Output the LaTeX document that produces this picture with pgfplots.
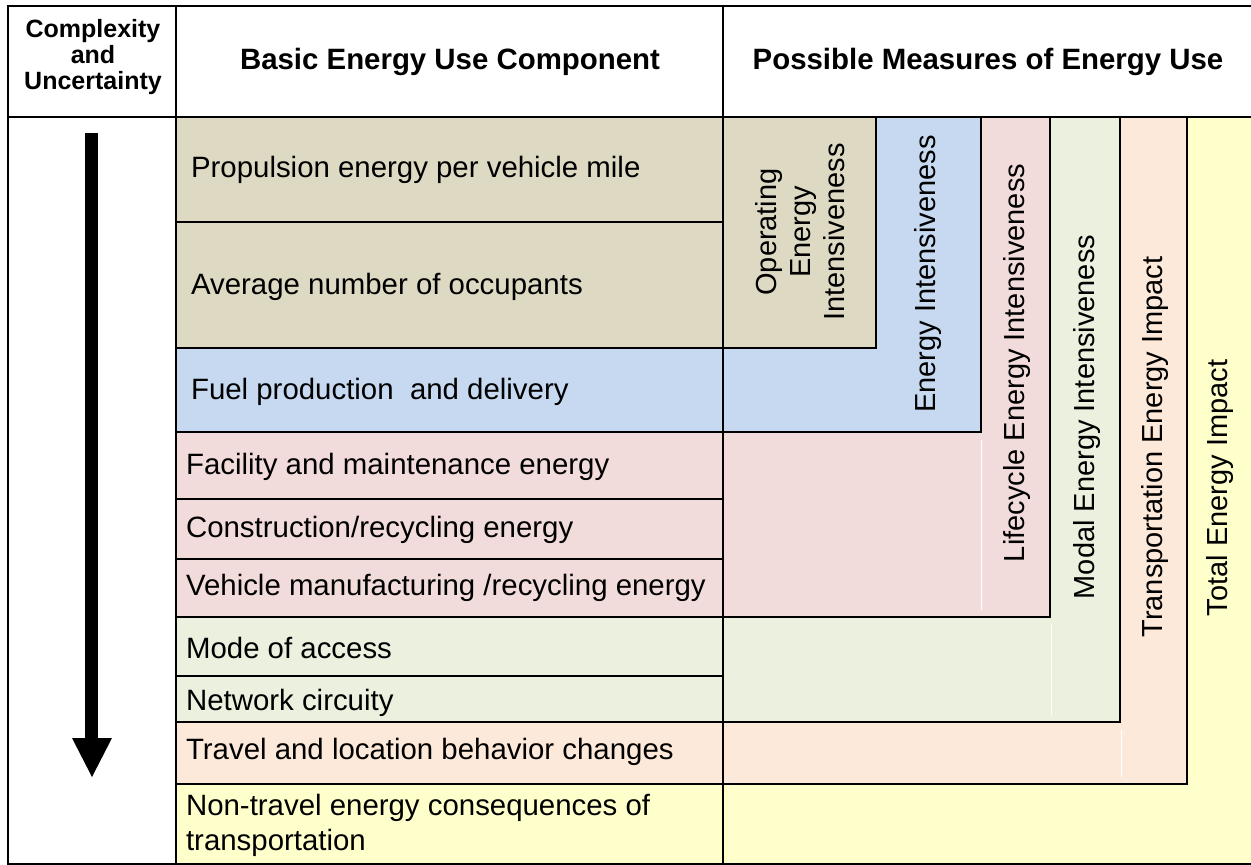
\documentclass[border=0pt]{standalone}
\usepackage{pgfplots}
\pgfplotsset{compat=1.18}
\usepackage{fontspec}
\setmainfont{Liberation Sans}
\definecolor{ctan}{HTML}{DDD9C3}
\definecolor{cblue}{HTML}{C6D9F1}
\definecolor{cpink}{HTML}{F2DCDB}
\definecolor{cgreen}{HTML}{EBF1DE}
\definecolor{cpeach}{HTML}{FDE9D9}
\definecolor{cyellow}{HTML}{FFFFCC}
\begin{document}
\begin{tikzpicture}
\begin{axis}[width=625.5pt,height=432.5pt,scale only axis,
  xmin=0,xmax=1251,ymin=0,ymax=865,y dir=reverse,hide axis]
% bounding
\addplot[draw=none] coordinates {(0,0) (1251,865)};
% left column fills
\addplot[fill=ctan,draw=none] coordinates {(176,117) (723,117) (723,348) (176,348)} -- cycle;
\addplot[fill=cblue,draw=none] coordinates {(176,348) (723,348) (723,432) (176,432)} -- cycle;
\addplot[fill=cpink,draw=none] coordinates {(176,432) (723,432) (723,617) (176,617)} -- cycle;
\addplot[fill=cgreen,draw=none] coordinates {(176,617) (723,617) (723,722) (176,722)} -- cycle;
\addplot[fill=cpeach,draw=none] coordinates {(176,722) (723,722) (723,784) (176,784)} -- cycle;
\addplot[fill=cyellow,draw=none] coordinates {(176,784) (723,784) (723,864) (176,864)} -- cycle;
% measure fills
\addplot[fill=cyellow,draw=none] coordinates {(723,117) (1251,117) (1251,864) (723,864)} -- cycle;
\addplot[fill=cpeach,draw=none] coordinates {(723,117) (1187,117) (1187,784) (723,784)} -- cycle;
\addplot[fill=cgreen,draw=none] coordinates {(723,117) (1120,117) (1120,722) (723,722)} -- cycle;
\addplot[fill=cpink,draw=none] coordinates {(723,117) (1050,117) (1050,617) (723,617)} -- cycle;
\addplot[fill=cblue,draw=none] coordinates {(723,117) (981,117) (981,432) (723,432)} -- cycle;
\addplot[fill=ctan,draw=none] coordinates {(723,117) (876,117) (876,348) (723,348)} -- cycle;
% white artifact lines
\addplot[white,line width=0.5pt] coordinates {(981,440) (981,610)};
\addplot[white,line width=0.5pt] coordinates {(1051,624) (1051,715)};
\addplot[white,line width=0.5pt] coordinates {(1121,730) (1121,777)};
% L borders
\addplot[black,line width=1pt] coordinates {(876,117) (876,348) (176,348)};
\addplot[black,line width=1pt] coordinates {(981,117) (981,432) (176,432)};
\addplot[black,line width=1pt] coordinates {(1050,117) (1050,617) (176,617)};
\addplot[black,line width=1pt] coordinates {(1120,117) (1120,722) (176,722)};
\addplot[black,line width=1pt] coordinates {(1187,117) (1187,784) (176,784)};
% thin row lines
\addplot[black,line width=0.6pt] coordinates {(176,222) (723,222)};
\addplot[black,line width=0.6pt] coordinates {(176,499) (723,499)};
\addplot[black,line width=0.6pt] coordinates {(176,559) (723,559)};
\addplot[black,line width=0.6pt] coordinates {(176,676) (723,676)};
% frame
\addplot[black,line width=1pt] coordinates {(1251,6) (8,6) (8,864) (1251,864)};
\addplot[black,line width=1pt] coordinates {(8,117) (1251,117)};
\addplot[black,line width=1pt] coordinates {(176,6) (176,864)};
\addplot[black,line width=1pt] coordinates {(723,6) (723,864)};
% arrow
\addplot[fill=black,draw=none] coordinates {(85,133) (98,133) (98,738) (85,738)} -- cycle;
\addplot[fill=black,draw=none] coordinates {(72,738) (112,738) (92,777)} -- cycle;
% header texts
\node[font=\fontsize{12.5}{13}\selectfont\bfseries,align=center] at (axis cs:93,57) {Complexity\\and\\Uncertainty};
\node[font=\fontsize{14.7}{18}\selectfont\bfseries] at (axis cs:450,62) {Basic Energy Use Component};
\node[font=\fontsize{14.7}{18}\selectfont\bfseries] at (axis cs:988,62) {Possible Measures of Energy Use};
% left texts
\begin{scope}[every node/.style={anchor=west,font=\fontsize{14.7}{17.5}\selectfont}]
\node at (axis cs:184,170) {Propulsion energy per vehicle mile};
\node at (axis cs:184,287) {Average number of occupants};
\node at (axis cs:184,392) {Fuel production\ \ and delivery};
\node at (axis cs:179,467) {Facility and maintenance energy};
\node at (axis cs:179,530) {Construction/recycling energy};
\node at (axis cs:179,588) {Vehicle manufacturing /recycling energy};
\node at (axis cs:179,648) {Mode of access};
\node at (axis cs:179,703) {Network circuity};
\node at (axis cs:179,752) {Travel and location behavior changes};
\node[align=left] at (axis cs:179,825) {Non-travel energy consequences of\\transportation};
\end{scope}
% rotated texts
\begin{scope}[every node/.style={rotate=90,font=\fontsize{14.5}{17}\selectfont,align=center}]
\node at (axis cs:800,232) {Operating\\Energy\\Intensiveness};
\node at (axis cs:928,274) {Energy Intensiveness};
\node at (axis cs:1017,363) {Lifecycle Energy Intensiveness};
\node at (axis cs:1087,417) {Modal Energy Intensiveness};
\node at (axis cs:1155,447) {Transportation Energy Impact};
\node at (axis cs:1220,488) {Total Energy Impact};
\end{scope}
\end{axis}
\end{tikzpicture}
\end{document}
